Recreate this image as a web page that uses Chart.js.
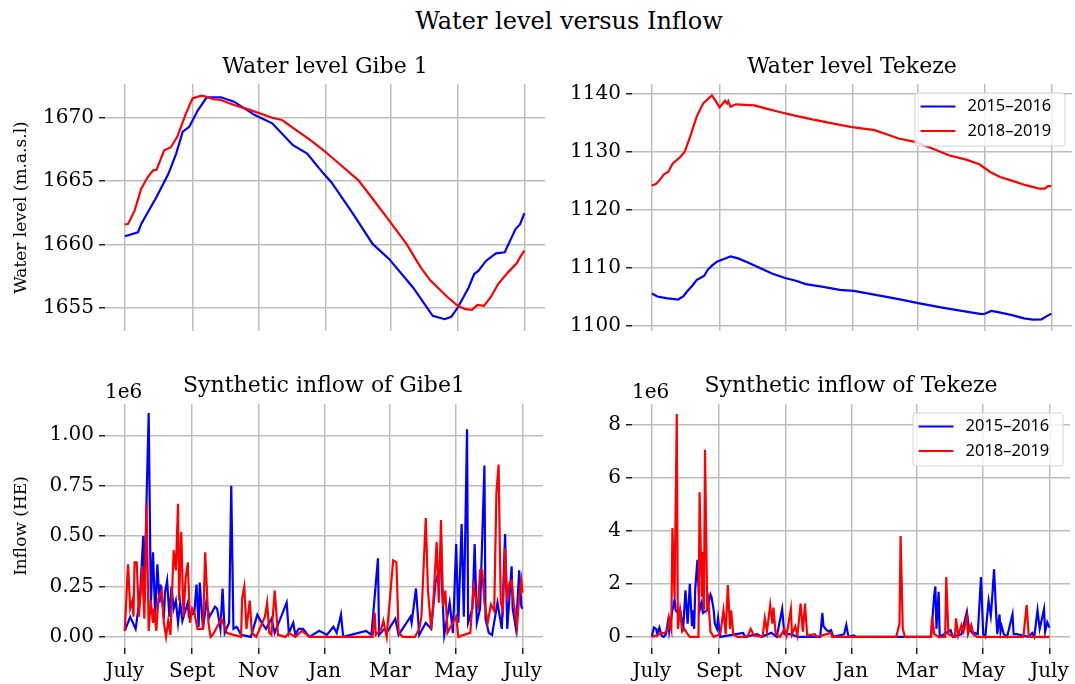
<!DOCTYPE html>
<html>
<head>
<meta charset="utf-8">
<title>Water level versus Inflow</title>
<script src="https://cdn.jsdelivr.net/npm/chart.js@4.4.0/dist/chart.umd.min.js"></script>
<style>
  body { margin: 0; background: #fff; width: 1075px; height: 684px; overflow: hidden; position: relative; font-family: 'DejaVu Serif', serif; }
  canvas { position: absolute; }
  #suptitle { position: absolute; left: 369px; width: 400px; top: 9px; text-align: center; font-size: 24px; line-height: 24px; color: #000; }
</style>
</head>
<body>
<div id="suptitle">Water level versus Inflow</div>
<canvas id="gibe-level" width="548" height="308" style="left:0;top:40px"></canvas>
<canvas id="tekeze-level" width="535" height="308" style="left:540px;top:40px"></canvas>
<canvas id="gibe-inflow" width="548" height="334" style="left:0;top:350px"></canvas>
<canvas id="tekeze-inflow" width="535" height="334" style="left:540px;top:350px"></canvas>
<script>
// x axis: days counted from 1 July
const monthDays = [0, 62, 123, 184, 244, 305, 366];
const monthLabels = ['July', 'Sept', 'Nov', 'Jan', 'Mar', 'May', 'July'];
const seasonLabels = ['2015\u20132016', '2018\u20132019'];

// water level Gibe 1 (m.a.s.l)
const gibeDays15 = [0,12,15,29,40,47,53,59,67,75,88,100,119,135,154,167,182,189,208,227,242,264,282,293,299,305,315,320,324,331,340,348,358,362,366];
const gibeLevel15 = [1660.66,1660.98,1661.64,1663.75,1665.6,1667.18,1668.9,1669.29,1670.61,1671.61,1671.61,1671.27,1670.21,1669.56,1667.84,1667.18,1665.6,1664.94,1662.56,1660.06,1658.88,1656.63,1654.39,1654.13,1654.31,1655.05,1656.63,1657.69,1657.95,1658.74,1659.32,1659.4,1661.25,1661.59,1662.48];
const gibeDays18 = [0,3,9,15,21,26,29,36,42,48,56,62,70,75,81,88,100,113,126,135,144,157,170,182,198,214,227,242,258,271,280,296,305,312,318,323,329,335,342,351,359,362,366];
const gibeLevel18 = [1661.59,1661.64,1662.7,1664.41,1665.33,1665.86,1665.9,1667.44,1667.66,1668.5,1670.35,1671.53,1671.74,1671.66,1671.46,1671.4,1671.0,1670.66,1670.27,1670.0,1669.82,1669.03,1668.24,1667.44,1666.26,1665.07,1663.62,1661.91,1660.06,1658.22,1657.17,1655.84,1655.18,1654.92,1654.87,1655.26,1655.18,1655.84,1656.9,1657.82,1658.53,1659.0,1659.53];

// water level Tekeze (m.a.s.l)
const tekDays15 = [0,5,13,24,29,32,37,41,48,51,55,60,66,72,79,88,101,110,122,132,141,157,172,185,210,226,244,266,288,302,305,311,316,329,341,349,357,361,366];
const tekLevel15 = [1105.6,1105.08,1104.8,1104.56,1105.14,1105.9,1106.93,1107.9,1108.66,1109.64,1110.4,1111.14,1111.55,1112.0,1111.65,1110.96,1109.82,1109.06,1108.26,1107.8,1107.22,1106.75,1106.23,1106.06,1105.2,1104.62,1103.93,1103.17,1102.48,1102.03,1102.1,1102.6,1102.42,1101.9,1101.32,1101.1,1101.15,1101.61,1102.13];
const tekDays18 = [0,4,7,11,15,19,26,30,35,41,47,55,58,62,67,69,70,72,77,94,104,116,132,147,163,182,204,213,226,241,257,272,288,300,310,319,329,341,347,355,360,363,366];
const tekLevel18 = [1124.24,1124.53,1125.11,1126.15,1126.55,1128.0,1129.14,1130.0,1132.6,1136.07,1138.39,1139.77,1138.96,1137.7,1138.84,1138.39,1138.79,1137.8,1138.22,1138.04,1137.52,1136.94,1136.24,1135.62,1135.03,1134.34,1133.77,1133.2,1132.33,1131.74,1130.6,1129.44,1128.69,1127.88,1126.55,1125.68,1125.11,1124.36,1124.07,1123.67,1123.67,1124.13,1124.13];

// synthetic inflow, in millions (HE)
const MILLION = 1e6;
const gibeInDays15 = [0,5,10,14,17,18,20,22,24,26,28,30,32,33,36,37,39,41,43,45,47,49,51,53,58,59,64,66,68,69,72,75,78,83,85,88,90,92,96,98,100,103,107,116,122,126,130,135,138,149,151,155,157,160,164,170,179,186,192,195,199,201,222,227,233,234,239,241,249,252,263,264,268,271,277,282,286,291,294,299,302,305,307,310,312,315,316,320,322,324,327,331,332,335,338,343,347,350,352,356,357,360,363,365,366];
const gibeInflow15 = [0.03,0.10,0.04,0.20,0.50,0.17,0.67,1.11,0.17,0.42,0.10,0.36,0.17,0.26,0.09,0.22,0.28,0.10,0.25,0.14,0.18,0.07,0.17,0.08,0.17,0.10,0.12,0.26,0.05,0.27,0.04,0.17,0.10,0.15,0.14,0.04,0.24,0.02,0.07,0.75,0.04,0.05,0.01,0.00,0.11,0.07,0.04,0.09,0.02,0.17,0.02,0.07,0.01,0.04,0.04,0.00,0.03,0.01,0.05,0.02,0.11,0.00,0.03,0.01,0.39,0.01,0.04,0.02,0.09,0.01,0.10,0.07,0.24,0.01,0.07,0.04,0.27,0.36,0.01,0.17,0.02,0.46,0.07,0.56,0.10,1.03,0.07,0.14,0.46,0.07,0.14,0.85,0.09,0.02,0.01,0.17,0.04,0.51,0.04,0.35,0.14,0.04,0.33,0.15,0.14];
const gibeInDays18 = [0,3,5,7,8,9,11,13,15,16,18,20,22,24,26,27,29,31,34,36,38,40,42,45,47,49,50,52,54,56,58,60,62,64,67,72,74,77,79,81,85,89,94,100,107,108,110,112,115,117,121,129,131,133,135,138,141,148,151,157,163,170,228,230,231,236,238,241,247,250,252,256,267,271,273,277,279,282,284,287,289,291,293,295,297,302,305,307,312,318,321,323,325,327,329,331,334,337,340,342,344,346,348,350,352,354,356,358,361,363,365,366];
const gibeInflow18 = [0.03,0.36,0.14,0.18,0.10,0.37,0.37,0.10,0.25,0.35,0.09,0.66,0.03,0.18,0.07,0.14,0.03,0.19,0.23,0.07,0.00,0.08,0.01,0.43,0.33,0.66,0.18,0.52,0.10,0.29,0.37,0.07,0.14,0.12,0.04,0.04,0.42,0.07,0.00,0.01,0.05,0.09,0.02,0.01,0.00,0.19,0.25,0.04,0.18,0.02,0.00,0.10,0.17,0.02,0.01,0.23,0.01,0.00,0.02,0.00,0.03,0.00,0.00,0.12,0.01,0.04,0.08,0.00,0.38,0.37,0.02,0.00,0.00,0.04,0.10,0.59,0.23,0.04,0.18,0.47,0.17,0.58,0.15,0.23,0.02,0.07,0.10,0.00,0.01,0.02,0.25,0.19,0.15,0.33,0.33,0.17,0.07,0.16,0.13,0.71,0.855,0.17,0.13,0.44,0.18,0.27,0.28,0.17,0.05,0.20,0.28,0.22];
const tekInDays15 = [0,2,4,5,7,9,11,13,15,16,19,21,22,24,26,28,29,31,33,35,37,38,39,40,42,44,46,47,51,54,55,57,58,60,61,63,84,86,97,101,110,115,120,122,127,135,155,157,158,161,163,165,167,177,179,181,186,188,257,260,261,262,264,265,275,277,285,290,292,296,297,300,303,305,307,308,310,312,313,315,317,318,320,321,322,324,327,332,333,336,341,347,350,352,355,357,361,362,364,366];
const tekInflow15 = [0,0.35,0.3,0.1,0.35,0.05,0,0.1,0.6,0.2,1.0,1.4,1.0,0.9,1.05,0.5,0.4,1.75,0.5,2.0,0.4,1.0,0.3,1.8,2.9,1.0,1.3,0.9,1.0,1.6,1.5,1.0,0.5,0.3,0.7,0,0.15,0,0.1,0,0.15,0,1.05,0.1,0.1,0,0,0.9,0.4,0.25,0.2,0.25,0,0.1,0.45,0,0.05,0,0,1.6,1.9,0.3,1.7,0,0.25,0,0.1,0.95,0.3,0.1,0.15,0.1,2.25,0.1,0,0.5,1.35,0.8,1.3,2.55,0.8,0.1,0.85,0.2,0.4,0.1,0,0.85,0.1,0.1,0.05,0,0.15,0,1.0,0.3,1.05,0.2,0.55,0.35];
const tekInDays18 = [0,4,8,12,15,16,18,19,21,23,24,26,28,30,33,35,43,44,46,47,48,49,51,52,54,57,63,66,68,70,72,73,75,79,88,91,94,102,104,106,109,111,112,114,118,122,124,128,129,132,134,137,139,141,143,150,152,165,166,225,228,229,231,233,257,258,260,264,270,271,273,279,280,282,285,287,290,291,294,296,299,342,345,347,366];
const tekInflow18 = [0,0.05,0.12,0.15,0.3,0.7,0.3,4.1,1.5,8.4,0.3,1.0,0.2,0.3,0.1,0,0,5.45,1.5,3.2,1.0,7.05,1.2,1.4,0.2,0,0.1,1.0,0.1,1.95,0.3,1.0,0.1,0,0,0.3,0.05,0,0.7,0.2,1.2,0.5,1.1,0.1,0,0.3,0.05,1.05,0.1,0.4,0.05,1.25,0.2,1.25,0.05,0.1,0,0.15,0,0,0.5,3.8,0.3,0,0,0.75,0.1,0,0,2.25,0.1,0,0.7,0.05,0.45,0.2,0.75,0.1,0.45,0.1,0,0,1.2,0,0];

const BLUE = '#0000ff';
const RED = '#ff0000';
const GRID = '#bdbdbd';

Chart.defaults.font.family = "'DejaVu Serif', serif";
Chart.defaults.color = '#000';

function toPoints(days, values, scale) {
  return days.map((d, i) => ({ x: d, y: values[i] * (scale || 1) }));
}

// boxed legend in the upper right corner of the plot area
const cornerLegend = {
  id: 'cornerLegend',
  afterDatasetsDraw(chart, args, opts) {
    if (!opts.show) return;
    const { ctx, chartArea } = chart;
    const w = 150, h = 53;
    const x = chartArea.right - 7.5 - w;
    const y = chartArea.top + 8.5;
    ctx.save();
    ctx.beginPath();
    ctx.roundRect(x + 0.5, y + 0.5, w, h, 3);
    ctx.fillStyle = 'rgba(255,255,255,0.8)';
    ctx.fill();
    ctx.strokeStyle = '#d4d4d4';
    ctx.lineWidth = 1;
    ctx.stroke();
    ctx.font = "16.5px 'Noto Sans'";
    ctx.textBaseline = 'middle';
    chart.data.datasets.forEach((ds, i) => {
      const ly = y + 14 + i * 24.5;
      ctx.beginPath();
      ctx.moveTo(x + 6, ly);
      ctx.lineTo(x + 41, ly);
      ctx.strokeStyle = ds.borderColor;
      ctx.lineWidth = 2;
      ctx.stroke();
      ctx.fillStyle = '#000';
      ctx.fillText(ds.label, x + 53, ly);
    });
    ctx.restore();
  }
};

// multiplier written above the y axis ("1e6")
const offsetText = {
  id: 'offsetText',
  afterDraw(chart, args, opts) {
    if (!opts.text) return;
    const { ctx, chartArea } = chart;
    ctx.save();
    ctx.font = "20px 'DejaVu Serif'";
    ctx.fillStyle = '#000';
    ctx.textAlign = 'left';
    ctx.textBaseline = 'alphabetic';
    ctx.fillText(opts.text, chartArea.left, chartArea.top - 6);
    ctx.restore();
  }
};

function makePanel(id, p) {
  const ds = [
    { label: seasonLabels[0], data: p.blue, borderColor: BLUE, order: 1 },
    { label: seasonLabels[1], data: p.red, borderColor: RED, order: 0 }
  ].map(d => Object.assign(d, { borderWidth: 2.2, pointRadius: 0, tension: 0, fill: false }));

  return new Chart(document.getElementById(id), {
    type: 'line',
    data: { datasets: ds },
    plugins: [cornerLegend, offsetText],
    options: {
      responsive: false,
      animation: false,
      layout: { padding: { left: 0, right: 3, top: 0, bottom: 0 } },
      plugins: {
        legend: { display: false },
        tooltip: { enabled: false },
        title: {
          display: true, text: p.title, color: '#000', fullSize: false,
          font: { size: 22, weight: 'normal' },
          padding: { top: p.titleTop, bottom: p.titleBottom }
        },
        cornerLegend: { show: p.legend },
        offsetText: { text: p.offset || '' }
      },
      scales: {
        x: {
          type: 'linear', min: -18.2, max: 384.9,
          afterBuildTicks: s => { s.ticks = monthDays.map(v => ({ value: v })); },
          afterFit: s => { s.height = p.xLabels ? 36 : 0; },
          ticks: {
            display: p.xLabels, autoSkip: false, maxRotation: 0, padding: 6,
            font: { size: 20 },
            callback: (v, i) => monthLabels[i]
          },
          grid: { color: GRID, lineWidth: 1.5, drawTicks: p.xLabels, tickLength: 6, tickColor: '#222', tickWidth: 1.5 },
          border: { display: false }
        },
        y: {
          min: p.yMin, max: p.yMax,
          afterBuildTicks: s => { s.ticks = p.yTicks.map(v => ({ value: v })); },
          afterFit: s => { s.width = p.yWidth; },
          ticks: { padding: 5, font: { size: 20 }, callback: p.yFormat },
          grid: { color: GRID, lineWidth: 1.5, tickLength: 6, tickColor: '#222', tickWidth: 1.5 },
          border: { display: false },
          title: {
            display: !!p.yTitle, text: p.yTitle || '',
            font: { size: 17 }, padding: { top: 11, bottom: 0 }
          }
        }
      }
    }
  });
}

makePanel('gibe-level', {
  title: 'Water level Gibe 1', titleTop: 14.2, titleBottom: 3.4,
  blue: toPoints(gibeDays15, gibeLevel15), red: toPoints(gibeDays18, gibeLevel18),
  yMin: 1653.2, yMax: 1672.66, yTicks: [1655, 1660, 1665, 1670], yWidth: 105,
  yFormat: v => String(v), yTitle: 'Water level (m.a.s.l)', xLabels: false, legend: false
});

makePanel('tekeze-level', {
  title: 'Water level Tekeze', titleTop: 14.2, titleBottom: 3.4,
  blue: toPoints(tekDays15, tekLevel15), red: toPoints(tekDays18, tekLevel18),
  yMin: 1099.13, yMax: 1141.73, yTicks: [1100, 1110, 1120, 1130, 1140], yWidth: 92,
  yFormat: v => String(v), xLabels: false, legend: true
});

makePanel('gibe-inflow', {
  title: 'Synthetic inflow of Gibe1', titleTop: 23.2, titleBottom: 4.4,
  blue: toPoints(gibeInDays15, gibeInflow15, MILLION), red: toPoints(gibeInDays18, gibeInflow18, MILLION),
  yMin: -0.055 * MILLION, yMax: 1.155 * MILLION, yTicks: [0, 0.25, 0.5, 0.75, 1].map(v => v * MILLION), yWidth: 105,
  yFormat: v => (v / MILLION).toFixed(2), yTitle: 'Inflow (HE)', xLabels: true, legend: false, offset: '1e6'
});

makePanel('tekeze-inflow', {
  title: 'Synthetic inflow of Tekeze', titleTop: 23.2, titleBottom: 4.4,
  blue: toPoints(tekInDays15, tekInflow15, MILLION), red: toPoints(tekInDays18, tekInflow18, MILLION),
  yMin: -0.42 * MILLION, yMax: 8.774 * MILLION, yTicks: [0, 2, 4, 6, 8].map(v => v * MILLION), yWidth: 92,
  yFormat: v => String(Math.round(v / MILLION)), xLabels: true, legend: true, offset: '1e6'
});
</script>
</body>
</html>
